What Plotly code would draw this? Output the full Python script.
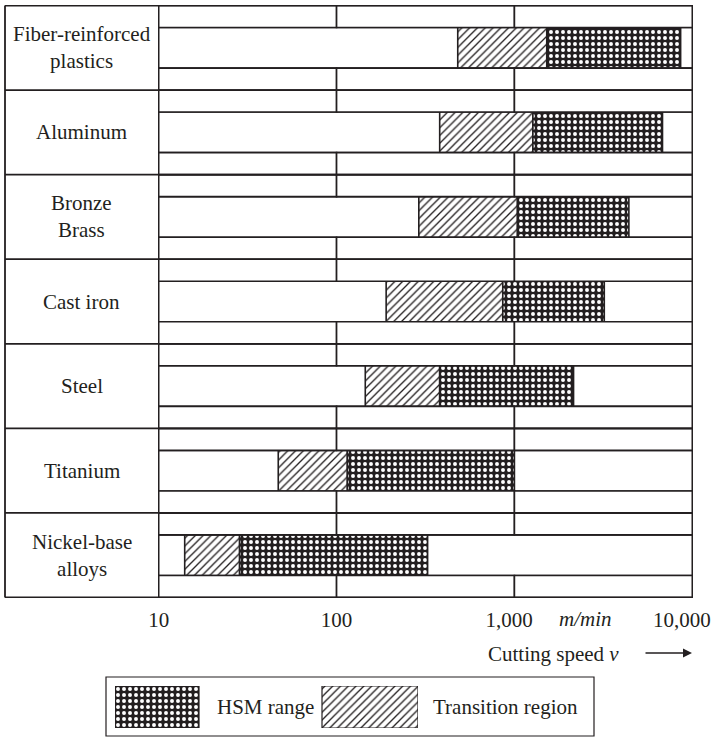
import plotly.graph_objects as go

# === Data (cutting speed, m/min) ===
materials = ["Fiber-reinforced<br>plastics", "Aluminum", "Bronze<br>Brass", "Cast iron",
             "Steel", "Titanium", "Nickel-base<br>alloys"]
trans_start = [480, 380, 290, 190, 145, 47, 14]
hsm_start = [1520, 1270, 1040, 860, 380, 115, 28.5]
hsm_end = [8600, 6800, 4400, 3200, 2150, 1000, 325]
speed_ticks = [10, 100, 1000, 10000]
tick_text = ["10", "100", "1,000\u00a0\u00a0", "10,000\u00a0\u00a0\u00a0\u00a0"]

# === Page geometry ===
W, H = 713, 737
INK = "#231f20"
FONT = "Liberation Serif"
n = len(materials)

row_mid = [i + 0.5 for i in range(n)]
strips = [i + 0.13 for i in range(n)] + [i + 0.87 for i in range(n)]
outline = dict(color=INK, width=1.6)

hatch = dict(shape="/", fgcolor=INK, bgcolor="white", size=5.5, solidity=0.24)
cross = dict(shape=".", fgcolor="white", bgcolor=INK, size=6, solidity=0.34)


def serif(size=21):
    return dict(family=FONT, size=size, color=INK)


fig = go.Figure()

# white bar row spanning the whole axis
fig.add_trace(go.Bar(
    orientation="h", y=row_mid, base=[speed_ticks[0]] * n,
    x=[speed_ticks[-1] - speed_ticks[0]] * n, width=0.48,
    marker=dict(color="white", line=outline), showlegend=False, hoverinfo="skip"))

# transition region
fig.add_trace(go.Bar(
    orientation="h", y=row_mid, base=trans_start,
    x=[b - a for a, b in zip(trans_start, hsm_start)], width=0.48,
    marker=dict(color="white", line=outline, pattern=hatch), showlegend=False, hoverinfo="skip"))

# HSM range
fig.add_trace(go.Bar(
    orientation="h", y=row_mid, base=hsm_start,
    x=[b - a for a, b in zip(hsm_start, hsm_end)], width=0.48,
    marker=dict(color="white", line=outline, pattern=cross), showlegend=False, hoverinfo="skip"))

# thin strips above / below each bar, split per decade
for lo, hi in zip(speed_ticks[:-1], speed_ticks[1:]):
    fig.add_trace(go.Bar(
        orientation="h", y=strips, base=[lo] * len(strips), x=[hi - lo] * len(strips),
        width=0.26, marker=dict(color="white", line=outline), showlegend=False, hoverinfo="skip"))

# legend swatches on their own small axes
fig.add_trace(go.Bar(
    orientation="h", y=[0.5], base=[0], x=[84 / 303], width=1, xaxis="x2", yaxis="y2",
    marker=dict(color="white", line=dict(color=INK, width=1.2), pattern=cross),
    showlegend=False, hoverinfo="skip"))
fig.add_trace(go.Bar(
    orientation="h", y=[0.5], base=[207 / 303], x=[96 / 303], width=1, xaxis="x2", yaxis="y2",
    marker=dict(color="white", line=dict(color=INK, width=1.2), pattern=hatch),
    showlegend=False, hoverinfo="skip"))

# === Frame lines for the label column ===
shapes = []
for i in range(n + 1):
    shapes.append(dict(type="line", xref="paper", yref="y", x0=5 / W, x1=693 / W, y0=i, y1=i,
                       line=dict(color=INK, width=1.8)))
shapes.append(dict(type="line", xref="paper", yref="y", x0=5 / W, x1=5 / W, y0=0, y1=n,
                   line=dict(color=INK, width=1.8)))
shapes.append(dict(type="rect", xref="paper", yref="paper", x0=106 / W, x1=594 / W,
                   y0=1 - 736 / H, y1=1 - 677 / H, line=dict(color=INK, width=1.2)))

annotations = []
for i, name in enumerate(materials):
    annotations.append(dict(x=81.5 / W, xref="paper", y=i + 0.5, yref="y", text=name,
                            xanchor="center", yanchor="middle",
                            showarrow=False, align="center", font=serif()))

for x, y, text in [(585, 619, "<i>m/min</i>"),
                   (553, 654, "Cutting speed <i>v</i>"),
                   (265, 707, "HSM range"),
                   (505, 707, "Transition region")]:
    annotations.append(dict(x=x / W, y=1 - y / H, xref="paper", yref="paper", text=text,
                            xanchor="center", yanchor="middle", showarrow=False,
                            font=serif()))

annotations.append(dict(x=692 / W, y=1 - 653 / H, xref="paper", yref="paper", text="",
                        showarrow=True, ax=-48, ay=0, arrowhead=2, arrowsize=1.2,
                        arrowwidth=1.5, arrowcolor=INK))

fig.update_layout(
    template="none",
    width=W, height=H,
    margin=dict(l=0, r=0, t=0, b=0, pad=0, autoexpand=False),
    barmode="overlay",
    font=serif(),
    paper_bgcolor="white", plot_bgcolor="white",
    xaxis=dict(type="log", range=[0.996, 4.004], domain=[158 / W, 693 / W], anchor="y",
               automargin=False, ticklabeloverflow="allow",
               tickvals=speed_ticks, ticktext=tick_text, showgrid=False, zeroline=False,
               showline=False, ticks="outside", ticklen=3, tickcolor="rgba(0,0,0,0)",
               tickfont=serif()),
    yaxis=dict(range=[n + 0.006, -0.006], domain=[1 - 598 / H, 1 - 5 / H], anchor="x",
               automargin=False, visible=False),
    xaxis2=dict(range=[0, 1], domain=[115 / W, 418 / W], anchor="y2", visible=False,
                automargin=False),
    yaxis2=dict(range=[0, 1], domain=[1 - 728 / H, 1 - 686 / H], anchor="x2", visible=False,
                automargin=False),
    shapes=shapes,
    annotations=annotations,
)

# page body has an 8px default margin; drop it so the figure sits at the window origin
fig.write_html("out.html", config={"displayModeBar": False},
               post_script="document.body.style.margin='0';")
